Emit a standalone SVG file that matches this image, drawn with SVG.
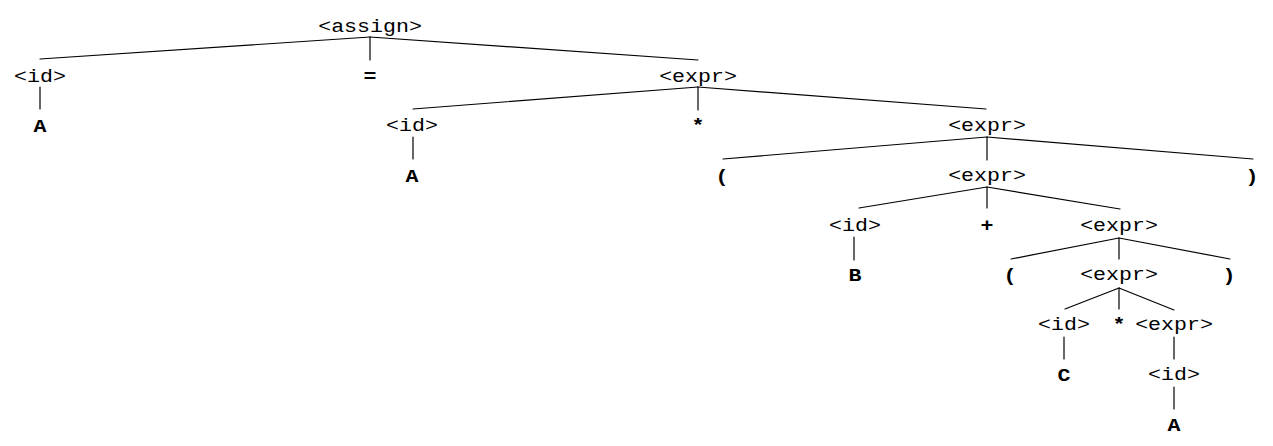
<svg xmlns="http://www.w3.org/2000/svg" width="1273" height="446" viewBox="0 0 1273 446">
<style>
.nt{font-family:"Liberation Mono","Courier New",monospace;font-size:18px;text-anchor:middle;fill:#000}
.t{font-family:"Liberation Mono","Courier New",monospace;font-size:18px;font-weight:bold;text-anchor:middle;fill:#000}
#edges line{stroke:#000;stroke-width:1.2;stroke-linecap:round}
</style>
<rect width="1273" height="446" fill="#fff"/>
<g id="edges">
<line x1="370" y1="37" x2="40" y2="59"/>
<line x1="370" y1="37" x2="370" y2="60"/>
<line x1="370" y1="37" x2="698" y2="60"/>
<line x1="40" y1="87" x2="40" y2="109"/>
<line x1="698" y1="87" x2="413" y2="109"/>
<line x1="698" y1="87" x2="698" y2="110"/>
<line x1="698" y1="87" x2="986" y2="109"/>
<line x1="413" y1="137" x2="413" y2="159"/>
<line x1="987" y1="137" x2="723" y2="159"/>
<line x1="987" y1="137" x2="987" y2="160"/>
<line x1="987" y1="137" x2="1253" y2="159"/>
<line x1="987" y1="187" x2="859" y2="208"/>
<line x1="987" y1="187" x2="987" y2="208"/>
<line x1="987" y1="187" x2="1120" y2="209"/>
<line x1="854" y1="237" x2="854" y2="260"/>
<line x1="1119" y1="238" x2="1011" y2="259"/>
<line x1="1119" y1="238" x2="1119" y2="259"/>
<line x1="1119" y1="238" x2="1230" y2="259"/>
<line x1="1119" y1="288" x2="1065" y2="309"/>
<line x1="1119" y1="288" x2="1119" y2="309"/>
<line x1="1119" y1="288" x2="1174" y2="310"/>
<line x1="1064" y1="337" x2="1064" y2="359"/>
<line x1="1174" y1="337" x2="1174" y2="359"/>
<line x1="1174" y1="387" x2="1174" y2="409"/>
</g>
<g id="n1"><text class="nt" transform="translate(370,32) scale(1.2,1)">&lt;assign&gt;</text></g>
<g id="n2"><text class="nt" transform="translate(40,82) scale(1.2,1)">&lt;id&gt;</text></g>
<g id="n3"><text class="t" transform="translate(370,82) scale(1.2,1)">=</text></g>
<g id="n4"><text class="nt" transform="translate(698,82) scale(1.2,1)">&lt;expr&gt;</text></g>
<g id="n5"><text class="t" transform="translate(40,132) scale(1.2,1)">A</text></g>
<g id="n6"><text class="nt" transform="translate(412,131) scale(1.2,1)">&lt;id&gt;</text></g>
<g id="n7"><text class="t" transform="translate(698,131) scale(1.2,1)">*</text></g>
<g id="n8"><text class="nt" transform="translate(987,131) scale(1.2,1)">&lt;expr&gt;</text></g>
<g id="n9"><text class="t" transform="translate(412,182) scale(1.2,1)">A</text></g>
<g id="n10"><text class="t" transform="translate(722,182) scale(1.2,1)">(</text></g>
<g id="n11"><text class="nt" transform="translate(987,181) scale(1.2,1)">&lt;expr&gt;</text></g>
<g id="n12"><text class="t" transform="translate(1252,182) scale(1.2,1)">)</text></g>
<g id="n13"><text class="nt" transform="translate(855,231) scale(1.2,1)">&lt;id&gt;</text></g>
<g id="n14"><text class="t" transform="translate(987,231) scale(1.2,1)">+</text></g>
<g id="n15"><text class="nt" transform="translate(1119,231) scale(1.2,1)">&lt;expr&gt;</text></g>
<g id="n16"><text class="t" transform="translate(855,281) scale(1.2,1)">B</text></g>
<g id="n17"><text class="t" transform="translate(1010,281) scale(1.2,1)">(</text></g>
<g id="n18"><text class="nt" transform="translate(1119,280) scale(1.2,1)">&lt;expr&gt;</text></g>
<g id="n19"><text class="t" transform="translate(1229,281) scale(1.2,1)">)</text></g>
<g id="n20"><text class="nt" transform="translate(1064,330) scale(1.2,1)">&lt;id&gt;</text></g>
<g id="n21"><text class="t" transform="translate(1119,330) scale(1.2,1)">*</text></g>
<g id="n22"><text class="nt" transform="translate(1174,330) scale(1.2,1)">&lt;expr&gt;</text></g>
<g id="n23"><text class="t" transform="translate(1064,381) scale(1.2,1)">C</text></g>
<g id="n24"><text class="nt" transform="translate(1174,380) scale(1.2,1)">&lt;id&gt;</text></g>
<g id="n25"><text class="t" transform="translate(1174,431) scale(1.2,1)">A</text></g>
</svg>
